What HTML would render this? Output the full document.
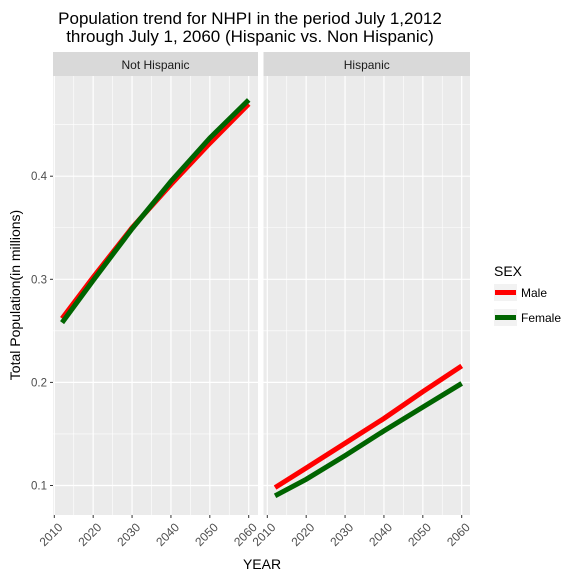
<!DOCTYPE html>
<html><head><meta charset="utf-8"><style>body{margin:0;background:#fff}svg{display:block;font-family:"Liberation Sans",Arial,sans-serif}</style></head>
<body>
<svg id="c" width="576" height="576" xmlns="http://www.w3.org/2000/svg">
<text x="250" y="24" font-size="17" text-anchor="middle" fill="#000">Population trend for NHPI in the period July 1,2012</text>
<text x="250" y="42" font-size="17" text-anchor="middle" fill="#000">through July 1, 2060 (Hispanic vs. Non Hispanic)</text>
<g id="plot"></g>
<text transform="translate(20,295) rotate(-90)" font-size="14" text-anchor="middle">Total Population(in millions)</text>
<text x="262" y="569" font-size="14" text-anchor="middle">YEAR</text>
<g>
<text x="494" y="276" font-size="14">SEX</text>
<rect x="494" y="284" width="23" height="17" fill="#f2f2f2"/>
<line x1="495" y1="292.5" x2="516" y2="292.5" stroke="#ff0000" stroke-width="5"/>
<text x="521" y="297" font-size="12">Male</text>
<rect x="494" y="309" width="23" height="17" fill="#f2f2f2"/>
<line x1="495" y1="317.5" x2="516" y2="317.5" stroke="#006400" stroke-width="5"/>
<text x="521" y="322" font-size="12">Female</text>
</g>
</svg>
<script>
const years=[2012,2020,2030,2040,2050,2060];
const nhMale=[0.262,0.302,0.350,0.392,0.432,0.470];
const nhFemale=[0.258,0.299,0.349,0.395,0.437,0.474];
const hMale=[0.098,0.117,0.141,0.165,0.191,0.216];
const hFemale=[0.090,0.106,0.129,0.153,0.176,0.199];
const panels=["Not Hispanic","Hispanic"];
const xTicks=[2010,2020,2030,2040,2050,2060];
const yTicks=[0.1,0.2,0.3,0.4];
const NS="http://www.w3.org/2000/svg";
const g=document.getElementById('plot');
function mk(t,a,p){const e=document.createElementNS(NS,t);for(const k in a)e.setAttribute(k,a[k]);(p||g).appendChild(e);return e;}
const plotTop=76,plotBot=515;
function y(v){return 485.5-(v-0.1)*1031;}
const px=[{l:53,r:258,x0:54.3},{l:263.5,r:470,x0:267.3}];
const series=[[nhMale,nhFemale],[hMale,hFemale]];
px.forEach((p,i)=>{
  const x=v=>p.x0+(v-2010)*3.888;
  const bg=mk('rect',{x:p.l,y:plotTop,width:p.r-p.l,height:plotBot-plotTop,fill:'#ebebeb'});
  
  
  const st=mk('rect',{x:p.l,y:52,width:p.r-p.l,height:24,fill:'#d9d9d9'});
  
  
  const stt=mk('text',{x:(p.l+p.r)/2,y:69,'font-size':12,'text-anchor':'middle',fill:'#1a1a1a'});
  stt.textContent=panels[i];
  
  
  for(let k=0;k<xTicks.length-1;k++){const m=x(xTicks[k]+5);mk('line',{x1:m,x2:m,y1:plotTop,y2:plotBot,stroke:'#fff','stroke-width':0.6});}
  for(let k=0;k<yTicks.length;k++){const m=y(yTicks[k]+0.05);if(m>plotTop)mk('line',{x1:p.l,x2:p.r,y1:m,y2:m,stroke:'#fff','stroke-width':0.6});}
  mk('line',{x1:p.l,x2:p.r,y1:y(0.05),y2:y(0.05),stroke:'#fff','stroke-width':0.6});
  xTicks.forEach(t=>{const m=x(t);mk('line',{x1:m,x2:m,y1:plotTop,y2:plotBot,stroke:'#fff','stroke-width':1.2});
    mk('line',{x1:m,x2:m,y1:plotBot,y2:plotBot+3,stroke:'#333','stroke-width':1});
    const tx=mk('text',{transform:`translate(${m+9},${plotBot+13}) rotate(-45)`,'font-size':12,'text-anchor':'end',fill:'#4d4d4d'});
    tx.textContent=t;
    
    });
  yTicks.forEach(t=>{const m=y(t);mk('line',{x1:p.l,x2:p.r,y1:m,y2:m,stroke:'#fff','stroke-width':1.2});});
  const cols=['#ff0000','#006400'];
  series[i].forEach((s,j)=>{
    const ln=mk('polyline',{points:years.map((yr,k)=>x(yr)+','+y(s[k])).join(' '),fill:'none',stroke:cols[j],'stroke-width':5});
    
    
  });
});
yTicks.forEach(t=>{const m=y(t);mk('line',{x1:50,x2:53,y1:m,y2:m,stroke:'#333'});
  const tx=mk('text',{x:47,y:m+4,'font-size':11.5,'text-anchor':'end',fill:'#4d4d4d'});
  tx.textContent=t;
  
  });
</script>
</body></html>
